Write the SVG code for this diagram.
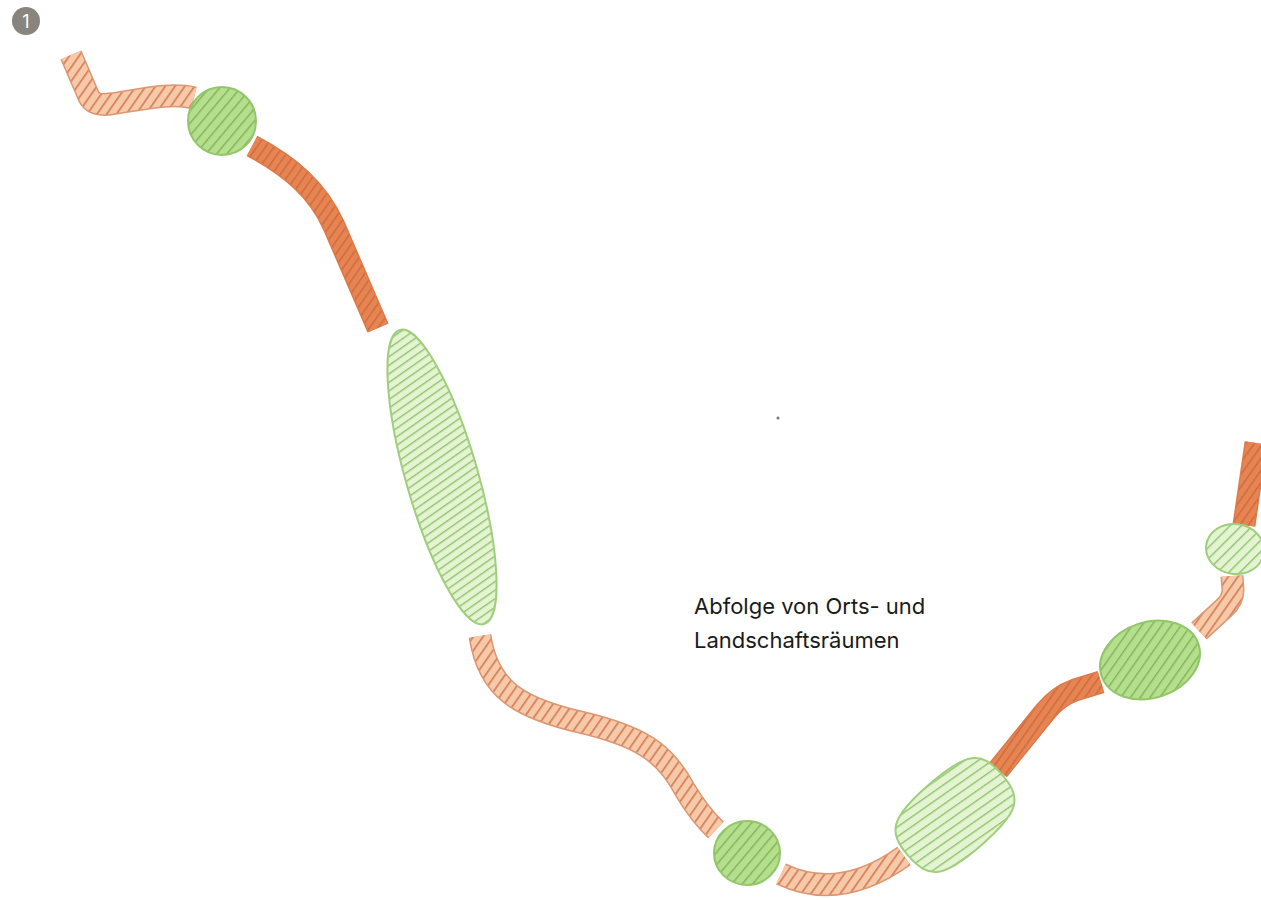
<svg xmlns="http://www.w3.org/2000/svg" width="1261" height="900" viewBox="0 0 1261 900">
<style>
.lo-edge{fill:none;stroke:#dc9670;stroke-width:23;stroke-linecap:butt;stroke-linejoin:round}
.lo{fill:none;stroke:url(#hLO);stroke-width:20;stroke-linecap:butt;stroke-linejoin:round}
.do-edge{fill:none;stroke:#dd7a48;stroke-width:23;stroke-linecap:butt;stroke-linejoin:round}
.do{fill:none;stroke:url(#hDO);stroke-width:20;stroke-linecap:butt;stroke-linejoin:round}
.mg{stroke:#92c66a;stroke-width:2}
.lg{stroke:#9fcf7c;stroke-width:2}
.lbl{font-family:Inter,"Liberation Sans",sans-serif;font-size:22px;fill:#1a1a1a}
</style>
<defs>
<pattern id="hLO" width="8" height="8" patternUnits="userSpaceOnUse" patternTransform="rotate(-55)">
<rect width="8" height="8" fill="#f7c9ab"/><rect width="8" height="1.7" fill="#d47f52"/>
</pattern>
<pattern id="hDO" width="7" height="7" patternUnits="userSpaceOnUse" patternTransform="rotate(-55)">
<rect width="7" height="7" fill="#e88452"/><rect width="7" height="1.4" fill="#c96a3e"/>
</pattern>
<pattern id="hMG" width="8" height="8" patternUnits="userSpaceOnUse" patternTransform="rotate(-50)">
<rect width="8" height="8" fill="#b5de8d"/><rect width="8" height="1.4" fill="#7fb458"/>
</pattern>
<pattern id="hMG9" width="8" height="8" patternUnits="userSpaceOnUse" patternTransform="rotate(-37)">
<rect width="8" height="8" fill="#b5de8d"/><rect width="8" height="1.4" fill="#7fb458"/>
</pattern>
<pattern id="hLG3" width="7" height="7" patternUnits="userSpaceOnUse" patternTransform="rotate(-109)">
<rect width="7" height="7" fill="#e4f4d3"/><rect width="7" height="1.4" fill="#8fc36b"/>
</pattern>
<pattern id="hLG7" width="8" height="8" patternUnits="userSpaceOnUse" patternTransform="rotate(6)">
<rect width="8" height="8" fill="#e4f4d3"/><rect width="8" height="1.4" fill="#8fc36b"/>
</pattern>
<pattern id="hLG11" width="8" height="8" patternUnits="userSpaceOnUse" patternTransform="rotate(-53)">
<rect width="8" height="8" fill="#e4f4d3"/><rect width="8" height="1.4" fill="#8fc36b"/>
</pattern>
</defs>
<rect width="1261" height="900" fill="#ffffff"/>

<g id="badge">
<circle cx="26" cy="21" r="14" fill="#8a847e"/>
<text x="26" y="28" text-anchor="middle" font-family="Inter,'Liberation Sans',sans-serif" font-size="18" fill="#ffffff">1</text>
</g>

<g id="segments">
<g id="seg1"><path class="lo-edge" d="M 71 55 L 89 97 Q 94 106 110 104 C 140 100 170 92 194 98"/><path class="lo" d="M 71 55 L 89 97 Q 94 106 110 104 C 140 100 170 92 194 98"/></g>
<g id="seg2"><path class="do-edge" d="M 252 146 C 290 166 318 190 334 226 L 378 328"/><path class="do" d="M 252 146 C 290 166 318 190 334 226 L 378 328"/></g>
<g id="seg4"><path class="lo-edge" d="M 480 636 C 488 690 520 708 580 722 C 640 736 665 752 685 790 Q 700 815 716 830"/><path class="lo" d="M 480 636 C 488 690 520 708 580 722 C 640 736 665 752 685 790 Q 700 815 716 830"/></g>
<g id="seg6"><path class="lo-edge" d="M 781 874 Q 840 902 904 856"/><path class="lo" d="M 781 874 Q 840 902 904 856"/></g>
<g id="seg8"><path class="do-edge" d="M 998 770 L 1045 712 Q 1058 696 1075 690 L 1101 682"/><path class="do" d="M 998 770 L 1045 712 Q 1058 696 1075 690 L 1101 682"/></g>
<g id="seg10"><path class="lo-edge" d="M 1199 631 L 1224 608 Q 1233 600 1233 590 L 1232 576"/><path class="lo" d="M 1199 631 L 1224 608 Q 1233 600 1233 590 L 1232 576"/></g>
<g id="seg12"><path class="do-edge" d="M 1256 443 L 1244 525"/><path class="do" d="M 1256 443 L 1244 525"/></g>
</g>

<g id="spaces">
<ellipse id="sp1" class="mg" fill="url(#hMG)" cx="222" cy="121" rx="34" ry="34"/>
<ellipse id="sp3" class="lg" fill="url(#hLG3)" cx="442" cy="477" rx="153" ry="36" transform="rotate(74 442 477)"/>
<ellipse id="sp5" class="mg" fill="url(#hMG)" cx="747" cy="853" rx="33" ry="32"/>
<path id="sp7" class="lg" fill="url(#hLG7)" transform="translate(955 815) rotate(-41)" d="M 62 0 C 62 32 50 40 0 40 C -50 40 -62 32 -62 0 C -62 -32 -50 -40 0 -40 C 50 -40 62 -32 62 0 Z"/>
<ellipse id="sp9" class="mg" fill="url(#hMG9)" cx="1150" cy="660" rx="51" ry="38" transform="rotate(-18 1150 660)"/>
<ellipse id="sp11" class="lg" fill="url(#hLG11)" cx="1235" cy="549" rx="29" ry="25" transform="rotate(8 1235 549)"/>
</g>

<circle cx="778" cy="418" r="1.5" fill="#777"/>

<g id="label">
<text class="lbl" x="694" y="614">Abfolge von Orts- und</text>
<text class="lbl" x="694" y="648">Landschaftsräumen</text>
</g>
</svg>
